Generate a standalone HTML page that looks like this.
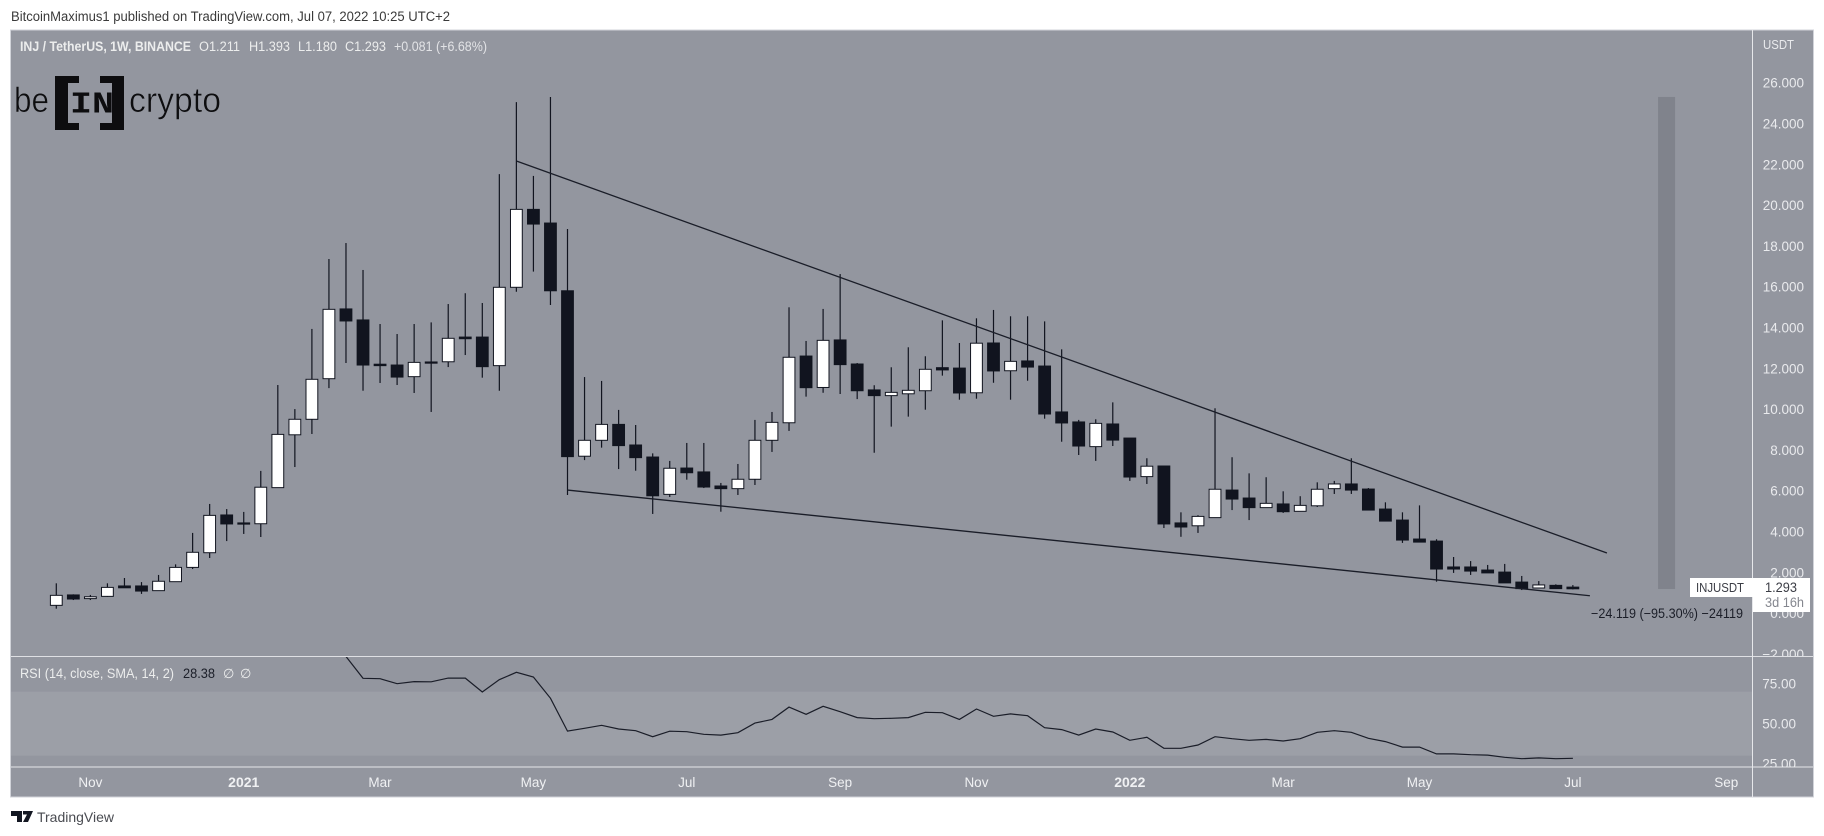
<!DOCTYPE html>
<html lang="en">
<head>
<meta charset="utf-8">
<title>INJ / TetherUS weekly chart</title>
<style>
html,body{margin:0;padding:0;background:#fff;width:1824px;height:836px;overflow:hidden}
svg{display:block;position:absolute;left:0;top:0}
text{font-family:"Liberation Sans","DejaVu Sans",sans-serif}
</style>
</head>
<body>
<svg id="chart" xmlns="http://www.w3.org/2000/svg" width="1824" height="836" viewBox="0 0 1824 836">
  <defs>
    <clipPath id="main-clip"><rect x="11" y="31" width="1741" height="625"/></clipPath>
    <clipPath id="rsi-clip"><rect x="11" y="657" width="1741" height="110"/></clipPath>
    <clipPath id="price-clip"><rect x="1753" y="31" width="60" height="625"/></clipPath>
    <clipPath id="rsiaxis-clip"><rect x="1753" y="657" width="60" height="110"/></clipPath>
  </defs>
  <rect x="0" y="0" width="1824" height="836" fill="#ffffff"/>
  <text x="11" y="21" font-size="13.5" fill="#3a3a3a" textLength="439" lengthAdjust="spacingAndGlyphs">BitcoinMaximus1 published on TradingView.com, Jul 07, 2022 10:25 UTC+2</text>

  <rect x="10.5" y="30" width="1803" height="767" fill="#93969f" stroke="#d1d3d9" stroke-width="1"/>
  <rect x="11" y="691.7" width="1741" height="64" fill="#9c9fa7"/>

  <g id="measure-layer" clip-path="url(#main-clip)"></g>
  <g id="candle-layer" clip-path="url(#main-clip)"></g>
  <g id="trend-layer" clip-path="url(#main-clip)"></g>
  <g id="rsi-layer" clip-path="url(#rsi-clip)"></g>

  <line x1="11" x2="1813" y1="656.5" y2="656.5" stroke="#dfe0e4" stroke-width="1"/>
  <line x1="11" x2="1813" y1="767" y2="767" stroke="#e6e7ea" stroke-width="1"/>
  <line x1="1752.5" x2="1752.5" y1="30" y2="797" stroke="#e6e7ea" stroke-width="1"/>

  <g id="price-axis" clip-path="url(#price-clip)"></g>
  <g id="rsi-axis" clip-path="url(#rsiaxis-clip)"></g>
  <g id="time-axis"></g>
  <text x="1763" y="49" font-size="13" fill="#e9eaed" textLength="31" lengthAdjust="spacingAndGlyphs">USDT</text>

  <g font-size="13.5" fill="#eceded">
    <text x="20" y="51" font-weight="bold" textLength="171" lengthAdjust="spacingAndGlyphs">INJ / TetherUS, 1W, BINANCE</text>
    <text x="199" y="51" textLength="41" lengthAdjust="spacingAndGlyphs">O1.211</text>
    <text x="249" y="51" textLength="41" lengthAdjust="spacingAndGlyphs">H1.393</text>
    <text x="298" y="51" textLength="39" lengthAdjust="spacingAndGlyphs">L1.180</text>
    <text x="345" y="51" textLength="41" lengthAdjust="spacingAndGlyphs">C1.293</text>
    <text x="394" y="51" textLength="93" lengthAdjust="spacingAndGlyphs" fill="#e2e3e6">+0.081 (+6.68%)</text>
  </g>

  <g fill="#0d0d0f">
    <text x="14" y="112" font-size="35" stroke="#93969f" stroke-width="0.6" textLength="35" lengthAdjust="spacingAndGlyphs">be</text>
    <path d="M55 76H79V83H68V123H79V130H55Z"/>
    <path d="M100 76H124V130H100V123H112V83H100Z"/>
    <text x="70" y="112.5" font-size="31" font-weight="bold" style="font-family:'Liberation Mono',monospace" textLength="44" lengthAdjust="spacingAndGlyphs">IN</text>
    <text x="129" y="112" font-size="35" stroke="#93969f" stroke-width="0.6" textLength="92" lengthAdjust="spacingAndGlyphs">crypto</text>
  </g>

  <text x="20" y="678" font-size="13.5" fill="#eceded" textLength="154" lengthAdjust="spacingAndGlyphs">RSI (14, close, SMA, 14, 2)</text>
  <text x="183" y="678" font-size="13.5" fill="#1b1e28" textLength="32" lengthAdjust="spacingAndGlyphs">28.38</text>
  <text x="223" y="678" font-size="13" fill="#eceded">∅</text>
  <text x="240" y="678" font-size="13" fill="#eceded">∅</text>

  <text x="1591" y="618" font-size="13.5" fill="#1b1e28" textLength="152" lengthAdjust="spacingAndGlyphs">−24.119 (−95.30%) −24119</text>

  <rect x="1690" y="578" width="64" height="19" fill="#ffffff"/>
  <rect x="1753" y="578" width="57" height="34" fill="#ffffff"/>
  <text x="1696" y="592" font-size="13" fill="#3b3d45" textLength="48" lengthAdjust="spacingAndGlyphs">INJUSDT</text>
  <text x="1765" y="592" font-size="13.5" fill="#3b3d45" textLength="32" lengthAdjust="spacingAndGlyphs">1.293</text>
  <text x="1765" y="607" font-size="13.5" fill="#85878f" textLength="39" lengthAdjust="spacingAndGlyphs">3d 16h</text>

  <g>
    <path fill="#131722" d="M11 811H22V822H17V816H11ZM23 811H33L28 822H23L27 814.5H23Z"/>
    <text x="37" y="822" font-size="14" fill="#4a4c52" textLength="77" lengthAdjust="spacingAndGlyphs">TradingView</text>
  </g>
</svg>
<script>
const opens = [0.40,0.91,0.73,0.84,1.35,1.35,1.12,1.56,2.26,2.98,
4.83,4.44,4.40,6.17,8.76,9.52,11.51,14.93,14.39,12.22,
12.18,11.61,12.33,12.34,13.55,13.55,12.15,15.99,19.81,19.14,
15.82,7.71,8.49,9.27,8.26,7.67,5.84,7.13,6.94,6.25,
6.12,6.58,8.49,9.35,12.62,11.08,13.41,12.23,10.96,10.68,
10.77,10.92,12.05,12.03,10.82,13.26,11.90,12.38,12.13,9.88,
9.39,8.18,9.29,8.60,6.71,7.23,4.44,4.30,4.70,6.05,
5.66,5.19,5.37,5.01,5.28,6.12,6.35,6.10,5.12,4.58,
3.65,3.55,2.28,2.28,2.13,2.03,1.54,1.25,1.38,1.211];
const closes = [0.89,0.71,0.82,1.28,1.26,1.10,1.58,2.26,3.00,4.81,
4.39,4.40,6.19,8.78,9.52,11.48,14.91,14.34,12.18,12.15,
11.59,12.31,12.30,13.49,13.47,12.10,15.99,19.81,19.09,15.82,
7.69,8.49,9.27,8.23,7.64,5.77,7.12,6.90,6.20,6.12,
6.58,8.49,9.37,12.56,11.07,13.39,12.20,10.92,10.68,10.84,
10.94,11.97,11.94,10.81,13.25,11.89,12.36,12.08,9.78,9.34,
8.21,9.32,8.50,6.69,7.22,4.39,4.24,4.76,6.09,5.61,
5.19,5.40,4.99,5.30,6.09,6.35,6.05,5.07,4.53,3.60,
3.50,2.18,2.18,2.08,1.99,1.50,1.22,1.40,1.22,1.293];
const highs = [1.48,0.94,0.91,1.48,1.74,1.54,1.89,2.41,3.95,5.37,
5.12,4.98,6.99,11.20,10.02,13.95,17.38,18.16,16.84,14.19,
13.70,14.19,14.27,15.17,15.70,15.22,21.54,25.07,21.45,25.32,
18.85,11.59,11.40,9.98,9.24,7.85,7.48,8.36,8.36,6.40,
7.33,9.49,9.88,15.01,13.36,14.93,16.64,12.28,11.19,12.07,
13.05,12.61,14.37,13.26,14.47,14.88,14.57,14.57,14.32,12.95,
9.49,9.52,10.35,8.60,7.61,7.23,4.96,4.82,10.06,7.66,
6.87,6.68,5.99,5.75,6.43,6.50,7.61,6.15,5.45,4.96,
5.30,3.64,2.77,2.57,2.38,2.43,1.84,1.59,1.43,1.393];
const lows = [0.235,0.66,0.66,0.82,1.26,0.96,1.12,1.56,2.18,2.72,
3.55,3.90,3.75,6.17,7.18,8.80,11.05,12.28,10.92,11.30,
11.20,10.81,9.88,12.08,12.67,11.56,10.92,15.77,16.76,15.12,
5.81,7.52,8.13,7.08,7.00,4.88,5.71,6.56,6.15,4.99,
5.81,6.30,7.92,8.95,10.63,10.82,10.76,10.51,7.88,9.16,
9.65,9.99,11.66,10.48,10.53,11.31,10.48,11.41,9.55,8.42,
7.77,7.48,8.21,6.50,6.35,4.19,3.76,3.95,4.70,5.07,
4.58,5.19,4.93,5.01,5.22,5.86,5.86,5.07,4.53,3.46,
3.50,1.56,1.99,1.89,1.99,1.50,1.15,1.25,1.20,1.180];
const rsiFirstBar = 14;
const rsiValues = [93,95,97,92,
78.4,78.1,75,76.3,76.2,78.5,78.5,69.8,77.5,82.1,79.2,65.9,45.4,47.1,
49,46.7,45.6,41.9,45.3,45,43.4,42.9,44.4,50.4,52.7,60.4,55.9,60.9,57.5,53.8,53.1,53.4,53.8,57.1,56.9,52.7,59.2,54.6,56.1,55,47.5,46.3,42.9,46.7,44.8,39.6,41.5,34.6,34.6,36.7,
41.9,40.6,39.6,40.2,39.2,40.6,44.6,45.6,44.6,40.9,38.8,35.4,35.4,31.1,31.1,30.6,30.4,29,28.1,28.6,28.1,28.38];
const priceTicks = [26,24,22,20,18,16,14,12,10,8,6,4,2,0,-2];
const rsiTicks = [75,50,25];
const timeTickBars = [2,11,19,28,37,46,54,63,72,80,89,98];
const timeTickLabels = ["Nov","2021","Mar","May","Jul","Sep","Nov","2022","Mar","May","Jul","Sep"];
const timeTickMajor = [false,true,false,false,false,false,false,true,false,false,false,false];
const upperTrendBars = [27,91];
const upperTrendPrices = [22.18,2.966];
const lowerTrendBars = [30,90];
const lowerTrendPrices = [6.05,0.87];
const measureBars = [94,95];
const measurePrices = [25.32,1.20];

function xBar(i){return 56.3+17.04*i;}
function yPrice(v){return 613.5-20.4*v;}
function yRsi(v){return 723.7-(v-50)*1.6;}

const NS = 'http://www.w3.org/2000/svg';
function svgEl(tag, attrs){
  const el = document.createElementNS(NS, tag);
  for (const k in attrs) el.setAttribute(k, attrs[k]);
  return el;
}
const DARK = '#11141f';

const measureLayer = document.getElementById('measure-layer');
const measureBar = svgEl('rect', {x:xBar(measureBars[0]), y:yPrice(measurePrices[0]), width:xBar(measureBars[1])-xBar(measureBars[0]), height:yPrice(measurePrices[1])-yPrice(measurePrices[0]), fill:'#80838c'});


measureLayer.appendChild(measureBar);

const candleLayer = document.getElementById('candle-layer');
for (let i = 0; i < opens.length; i++) {
  const up = closes[i] >= opens[i];
  const cx = xBar(i);
  const top = yPrice(Math.max(opens[i], closes[i]));
  const bot = yPrice(Math.min(opens[i], closes[i]));
  const tooThin = bot - top < 1.8;
  const wick = svgEl('line', {x1:cx, x2:cx, y1:yPrice(highs[i]), y2:yPrice(lows[i]), stroke:DARK, 'stroke-width':1.2});
  
  
  candleLayer.appendChild(wick);
  const body = svgEl('rect', {x:cx-5.9, y:top, width:11.8, height:Math.max(bot-top,1.2), fill:(up && !tooThin)?'#ffffff':DARK, stroke:DARK, 'stroke-width':1});
  
  
  candleLayer.appendChild(body);
}

const trendLayer = document.getElementById('trend-layer');
const upperTrend = svgEl('line', {x1:xBar(upperTrendBars[0]), y1:yPrice(upperTrendPrices[0]), x2:xBar(upperTrendBars[1]), y2:yPrice(upperTrendPrices[1]), stroke:'#1a1d28', 'stroke-width':1.3});


trendLayer.appendChild(upperTrend);
const lowerTrend = svgEl('line', {x1:xBar(lowerTrendBars[0]), y1:yPrice(lowerTrendPrices[0]), x2:xBar(lowerTrendBars[1]), y2:yPrice(lowerTrendPrices[1]), stroke:'#1a1d28', 'stroke-width':1.3});


trendLayer.appendChild(lowerTrend);

const rsiLayer = document.getElementById('rsi-layer');
const rsiPoints = rsiValues.map(function(v, k){return xBar(rsiFirstBar+k).toFixed(1)+','+yRsi(v).toFixed(1);}).join(' ');
const rsiLine = svgEl('polyline', {points:rsiPoints, fill:'none', stroke:'#1a1d28', 'stroke-width':1.2});


rsiLayer.appendChild(rsiLine);

const priceAxis = document.getElementById('price-axis');
priceTicks.forEach(function(v){
  const t = svgEl('text', {x:1804, y:yPrice(v)+4.6, 'font-size':13.5, fill:'#e9eaed', 'text-anchor':'end'});
  t.textContent = (v<0?'−':'')+Math.abs(v).toFixed(3);
  
  
  priceAxis.appendChild(t);
});

const rsiAxis = document.getElementById('rsi-axis');
rsiTicks.forEach(function(v){
  const t = svgEl('text', {x:1796, y:yRsi(v)+4.6, 'font-size':13.5, fill:'#e9eaed', 'text-anchor':'end'});
  t.textContent = v.toFixed(2);
  
  
  rsiAxis.appendChild(t);
});

const timeAxis = document.getElementById('time-axis');
timeTickBars.forEach(function(b, k){
  const t = svgEl('text', {x:xBar(b), y:787, 'font-size':timeTickMajor[k]?14:13.5, 'font-weight':timeTickMajor[k]?'bold':'normal', fill:'#f0f1f3', 'text-anchor':'middle'});
  t.textContent = timeTickLabels[k];
  
  
  timeAxis.appendChild(t);
});
</script>
</body>
</html>
